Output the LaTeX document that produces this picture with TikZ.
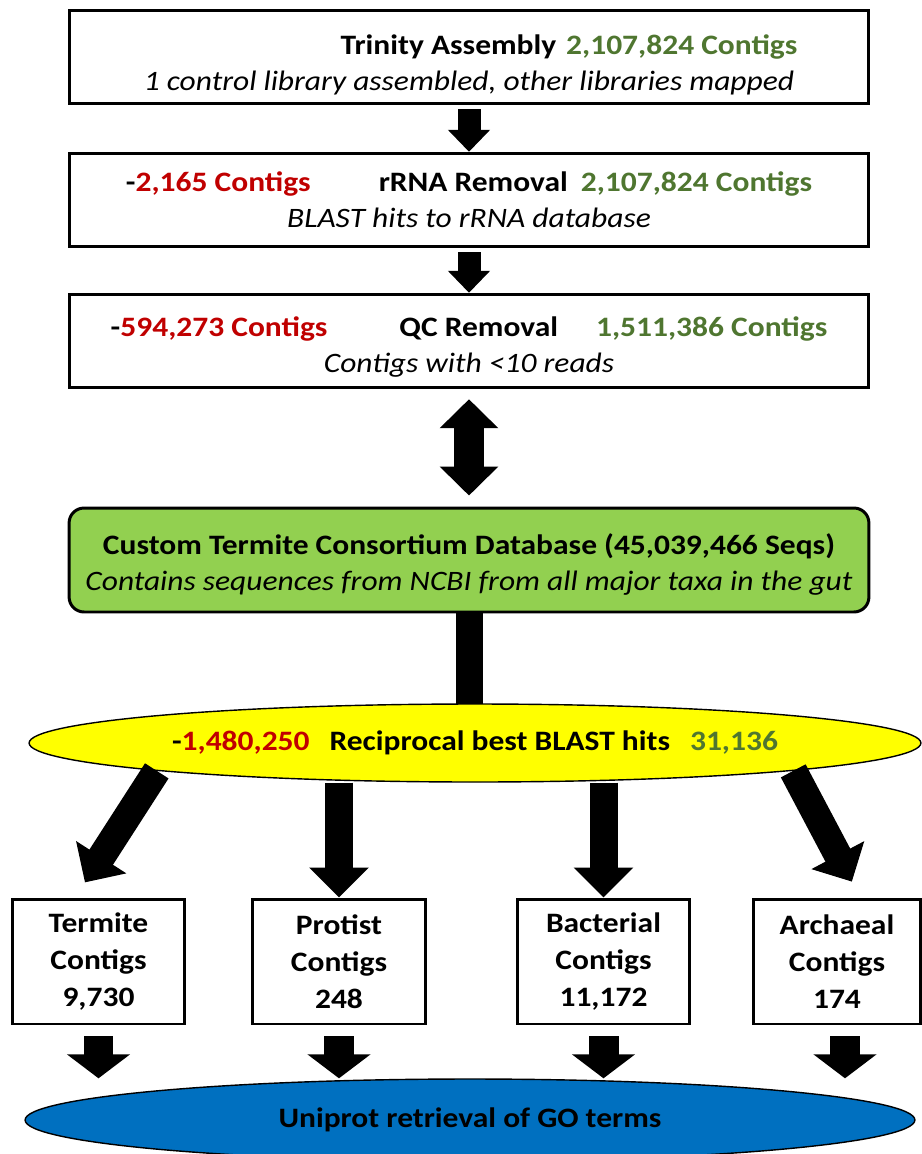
\documentclass[tikz,border=0pt]{standalone}
\usepackage{fontspec}
\setmainfont{Carlito}[FakeStretch=1.12]
\usetikzlibrary{arrows.meta,shapes.geometric}
\definecolor{lossred}{RGB}{192,0,0}
\definecolor{keepgreen}{RGB}{79,118,48}
\definecolor{dbgreen}{RGB}{146,208,80}
\definecolor{blastyellow}{RGB}{255,255,0}
\definecolor{goblue}{RGB}{0,112,192}
\newcommand{\subline}[1]{{\mdseries\itshape #1}}

\begin{document}
\begin{tikzpicture}[x=0.02cm,y=-0.02cm]
\tikzstyle{every node}+=[inner sep=0pt,align=center,font=\fontsize{16}{20.5}\selectfont\bfseries]
\tikzstyle{stepbox}=[draw,line width=1.7pt,minimum width=16cm,minimum height=1.87cm]
\tikzstyle{dbbox}=[draw,fill=dbgreen,rounded corners=0.3cm,line width=1.7pt,minimum width=16cm,minimum height=2.08cm]
\tikzstyle{contigbox}=[draw,line width=1.7pt,minimum width=3.46cm,minimum height=2.5cm,font=\fontsize{16}{21}\selectfont\bfseries]
\tikzstyle{blastell}=[ellipse,draw,fill=blastyellow,line width=0.8pt,minimum width=17.84cm,minimum height=1.56cm]
\tikzstyle{goell}=[ellipse,draw,fill=goblue,line width=0.8pt,minimum width=17.8cm,minimum height=1.64cm]
\tikzstyle{thinarrow}=[line width=0.46cm,-{Triangle[length=0.44cm,width=0.82cm]}]
\tikzstyle{fatarrow}=[line width=0.56cm,-{Triangle[length=0.6cm,width=1.16cm]}]
\tikzstyle{shortarrow}=[line width=0.6cm,-{Triangle[length=0.48cm,width=1.24cm]}]
\tikzstyle{twoway}=[line width=0.6cm,{Triangle[length=0.58cm,width=1.14cm]}-{Triangle[length=0.58cm,width=1.14cm]}]
\useasboundingbox (0,0) rectangle (922,1154);

% pipeline boxes
\node[stepbox] (trin) at (469,57) {\rule{0pt}{0.72cm}\hspace*{4cm}Trinity Assembly\hspace{0.2cm}\textcolor{keepgreen}{2,107,824 Contigs}\\ \subline{1 control library assembled, other libraries mapped}};
\node[stepbox] (rrna) at (469,200) {-\textcolor{lossred}{2,165 Contigs}\hspace{1.36cm}rRNA Removal\hspace{0.26cm}\textcolor{keepgreen}{2,107,824 Contigs}\\ \subline{BLAST hits to rRNA database}};
\node[stepbox] (qc) at (469,341) {\rule{0pt}{0.62cm}-\textcolor{lossred}{594,273 Contigs}\hspace{1.44cm}QC Removal\hspace{0.76cm}\textcolor{keepgreen}{1,511,386 Contigs}\\ \subline{Contigs with <10 reads}};
\node[dbbox] (db) at (469,560) {\rule{0pt}{0.58cm}Custom Termite Consortium Database (45,039,466 Seqs)\\ \subline{Contains sequences from NCBI from all major taxa in the gut}};

% stem goes under the ellipse
\draw[line width=0.54cm] (db.south) -- (469,720);
\node[blastell] (blast) at (475,743) {-\textcolor{lossred}{1,480,250}\hspace{0.4cm}Reciprocal best BLAST hits\hspace{0.4cm}\textcolor{keepgreen}{31,136}};

\node[contigbox] (termite) at (98.5,961.5) {Termite\\Contigs\\9,730};
\node[contigbox] (protist) at (339,961.5) {Protist\\Contigs\\248};
\node[contigbox] (bact) at (603.5,961.5) {Bacterial\\Contigs\\11,172};
\node[contigbox,minimum width=3.36cm] (arch) at (837,961.5) {Archaeal\\Contigs\\174};
\node[goell] (uni) at (470,1120) {Uniprot retrieval of GO terms};

% arrows
\draw[thinarrow,shorten <=0.08cm] (trin.south) -- (rrna.north);
\draw[thinarrow,shorten <=0.08cm] (rrna.south) -- (qc.north);
\draw[twoway,shorten <=0.2cm,shorten >=0.22cm] (db.north |- qc.south) -- (db.north);
\draw[fatarrow,shorten >=0.36cm] (blast.185) -- (termite.110);
\draw[fatarrow] (blast.south -| protist.north) -- (protist.north);
\draw[fatarrow] (blast.south -| bact.north) -- (bact.north);
\draw[fatarrow,shorten >=0.36cm] (blast.-5) -- (arch.70);
%\draw[shortarrow] (termite.south) -- (uni.north);
\draw[shortarrow,shorten <=0.22cm] (termite.south) -- (termite.south |- uni.north);
\draw[shortarrow,shorten <=0.22cm] (protist.south) -- (protist.south |- uni.north);
\draw[shortarrow,shorten <=0.22cm] (bact.south) -- (bact.south |- uni.north);
\draw[shortarrow,shorten <=0.22cm] ([xshift=0.16cm]arch.south) -- ([xshift=0.16cm]arch.south |- uni.north);
\end{tikzpicture}
\end{document}
